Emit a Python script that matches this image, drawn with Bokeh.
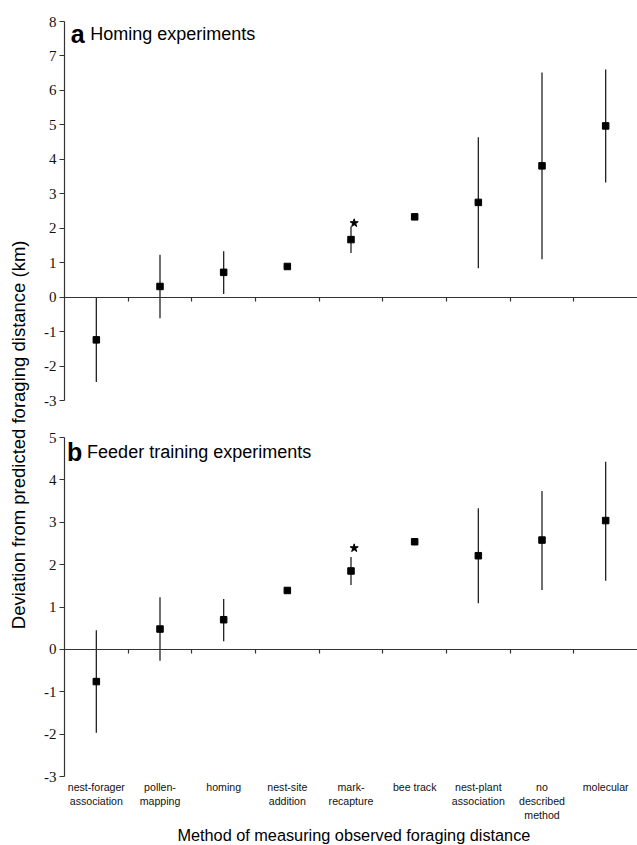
import math
from bokeh.plotting import figure
from bokeh.models import Range1d, FixedTicker, LinearAxis, Label, ColumnDataSource
from bokeh.layouts import row, column
from bokeh.embed import file_html
from bokeh.resources import INLINE

# ---------------- data ----------------
categories = ["nest-forager association", "pollen-mapping", "homing",
              "nest-site addition", "mark-recapture", "bee track",
              "nest-plant association", "no described method", "molecular"]
category_labels = ["nest-forager\nassociation", "pollen-\nmapping", "homing",
                   "nest-site\naddition", "mark-\nrecapture", "bee track",
                   "nest-plant\nassociation", "no\ndescribed\nmethod", "molecular"]

NaN = float("nan")
homing_mean = [-1.24, 0.31, 0.72, 0.89, 1.67, 2.33, 2.75, 3.81, 4.97]
homing_low = [-2.46, -0.61, 0.09, NaN, 1.28, NaN, 0.84, 1.10, 3.33]
homing_high = [-0.02, 1.23, 1.33, NaN, 2.05, NaN, 4.64, 6.52, 6.61]

feeder_mean = [-0.76, 0.48, 0.70, 1.39, 1.85, 2.54, 2.21, 2.58, 3.04]
feeder_low = [-1.97, -0.27, 0.19, NaN, 1.52, NaN, 1.09, 1.40, 1.62]
feeder_high = [0.45, 1.23, 1.19, NaN, 2.18, NaN, 3.33, 3.74, 4.43]

star_category = "mark-recapture"
homing_star = 2.15
feeder_star = 2.39

homing_yticks = list(range(-3, 9))
feeder_yticks = list(range(-3, 6))

title_a = "Homing experiments"
title_b = "Feeder training experiments"
y_title = "Deviation from predicted foraging distance (km)"
x_title = "Method of measuring observed foraging distance"

# ---------------- layout ----------------
W_LAB = 30
W = 607
H_A = 420
H_B = 404
H_X = 21
n = len(categories)
x_pos = [i + 0.5 for i in range(n)]
boundaries = list(range(1, n))
star_x = categories.index(star_category) + 0.55

SANS = "Liberation Sans"
SERIF = "Liberation Serif"
AX = "#333333"


def style_y(p, ticks):
    p.grid.visible = False
    p.outline_line_color = None
    ya = p.yaxis[0]
    ya.ticker = FixedTicker(ticks=ticks)
    ya.major_label_overrides = {t: str(t) for t in ticks}
    ya.major_tick_out = 5
    ya.major_tick_in = 0
    ya.minor_tick_out = 0
    ya.minor_tick_in = 0
    ya.axis_line_color = AX
    ya.axis_line_width = 1.2
    ya.major_tick_line_color = AX
    ya.major_tick_line_width = 1.2
    ya.major_label_text_font = SERIF
    ya.major_label_text_font_size = "15px"
    ya.major_label_text_color = "#111111"
    ya.major_label_standoff = 3


def zero_axis(ax):
    ax.fixed_location = 0
    ax.ticker = FixedTicker(ticks=boundaries)
    ax.major_label_overrides = {b: "" for b in boundaries}
    ax.major_tick_out = 4
    ax.major_tick_in = 0
    ax.minor_tick_out = 0
    ax.minor_tick_in = 0
    ax.axis_line_color = AX
    ax.axis_line_width = 1.2
    ax.major_tick_line_color = AX
    ax.major_tick_line_width = 1.2


def draw_series(p, mean, low, high, star_y):
    src = ColumnDataSource(dict(x=x_pos, y=mean, lo=low, hi=high))
    p.segment(x0="x", y0="lo", x1="x", y1="hi", source=src,
              line_color="#222222", line_width=1.3)
    p.scatter(x="x", y="y", source=src, marker="square", size=6.5,
              fill_color="black", line_color="black")
    p.scatter(x=[star_x], y=[star_y], marker="star", size=8.5,
              fill_color="black", line_color="black")


def blank(width, height):
    f = figure(width=width, height=height, x_range=Range1d(0, 1), y_range=Range1d(0, 1),
               output_backend="svg", toolbar_location=None,
               x_axis_location=None, y_axis_location=None, min_border=0)
    f.grid.visible = False
    f.outline_line_color = None
    return f


# ---- panel a ----
pa = figure(width=W, height=H_A, x_range=Range1d(0, n), y_range=Range1d(-3, 8),
            output_backend="svg", toolbar_location=None,
            min_border_left=34, min_border_right=0,
            min_border_top=21, min_border_bottom=20)
style_y(pa, homing_yticks)
zero_axis(pa.xaxis[0])
draw_series(pa, homing_mean, homing_low, homing_high, homing_star)
pa.add_layout(Label(x=0.1, y=7.64, text="a", text_font=SANS, text_font_style="bold",
                    text_font_size="25px", text_baseline="alphabetic", text_color="black"))
pa.add_layout(Label(x=0.405, y=7.64, text=title_a, text_font=SANS,
                    text_font_size="18px", text_baseline="alphabetic", text_color="black"))

# ---- panel b ----
pb = figure(width=W, height=H_B, x_range=Range1d(0, n), y_range=Range1d(-3, 5),
            output_backend="svg", toolbar_location=None,
            min_border_left=34, min_border_right=0,
            min_border_top=17, min_border_bottom=45)
style_y(pb, feeder_yticks)
xb = pb.xaxis[0]
xb.ticker = FixedTicker(ticks=x_pos)
xb.major_label_overrides = {x: lab for x, lab in zip(x_pos, category_labels)}
xb.major_tick_out = 0
xb.major_tick_in = 0
xb.minor_tick_out = 0
xb.minor_tick_in = 0
xb.axis_line_color = None
xb.major_label_text_font = SANS
xb.major_label_text_font_size = "10.6px"
xb.major_label_text_color = "#111111"
xb.major_label_standoff = 4

zb = LinearAxis()
zero_axis(zb)
pb.add_layout(zb, "below")
draw_series(pb, feeder_mean, feeder_low, feeder_high, feeder_star)
pb.add_layout(Label(x=0.04, y=4.65, text="b", text_font=SANS, text_font_style="bold",
                    text_font_size="25px", text_baseline="alphabetic", text_color="black"))
pb.add_layout(Label(x=0.355, y=4.65, text=title_b, text_font=SANS,
                    text_font_size="18px", text_baseline="alphabetic", text_color="black"))

# ---- x title strip ----
px = blank(W, H_X)
px.add_layout(Label(x=0.505, y=0.5, text=x_title, text_font=SANS,
                    text_font_size="16.3px", text_align="center", text_baseline="middle",
                    text_color="black"))

# ---- y title strip ----
pl = blank(W_LAB, H_A + H_B + H_X)
pl.add_layout(Label(x=0.6, y=0.486, text=y_title, angle=math.pi / 2,
                    text_font=SANS, text_font_size="18.5px", text_align="center",
                    text_baseline="middle", text_color="black"))

layout = row(pl, column(pa, pb, px))
open("out.html", "w").write(file_html(layout, INLINE))
